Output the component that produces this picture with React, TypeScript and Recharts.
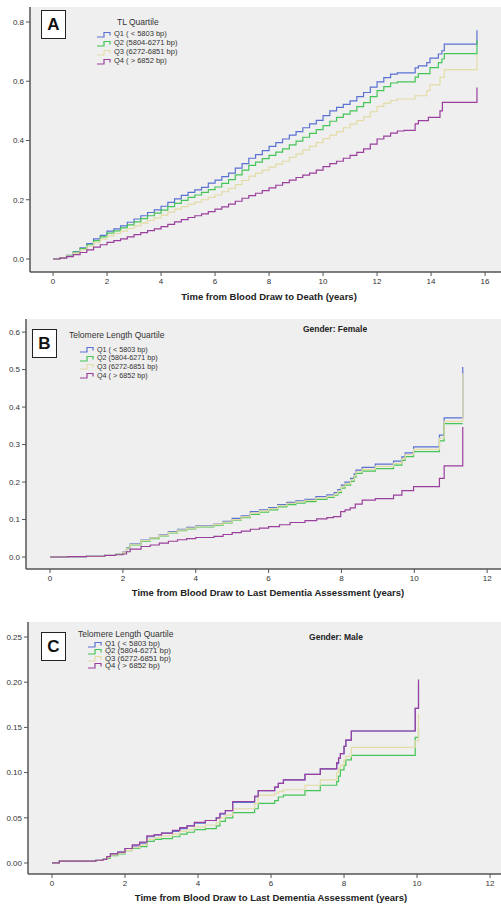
import { LineChart, Line, XAxis, YAxis, CartesianGrid } from 'recharts';

const FONT = '"Liberation Sans", Arial, sans-serif';
const AXIS_STROKE = '#555555';
const PLOT_BG = '#efefef';

const QUARTILE_COLORS = ['#5b72d3', '#45c557', '#e4dca6', '#9a3f9e'];
const QUARTILE_LABELS = ['Q1 ( < 5803 bp)', 'Q2 (5804-6271 bp)', 'Q3 (6272-6851 bp)', 'Q4 ( > 6852 bp)'];

// ---- Panel A: death, every 0.25 y up to 13, then the late steps
const A_TIME = [
  0, 0.25, 0.5, 0.75, 1, 1.25, 1.5, 1.75, 2, 2.25, 2.5, 2.75, 3, 3.25, 3.5, 3.75,
  4, 4.25, 4.5, 4.75, 5, 5.25, 5.5, 5.75, 6, 6.25, 6.5, 6.75, 7, 7.25, 7.5, 7.75,
  8, 8.25, 8.5, 8.75, 9, 9.25, 9.5, 9.75, 10, 10.25, 10.5, 10.75, 11, 11.25, 11.5, 11.75,
  12, 12.25, 12.5, 12.75, 13,
];
const A_Q1 = [
  0, 0.004, 0.012, 0.025, 0.038, 0.052, 0.068, 0.08, 0.094, 0.102, 0.112, 0.124, 0.135, 0.146, 0.157, 0.166,
  0.178, 0.191, 0.203, 0.215, 0.225, 0.233, 0.242, 0.256, 0.266, 0.278, 0.29, 0.307, 0.322, 0.34, 0.352, 0.366,
  0.38, 0.393, 0.405, 0.418, 0.43, 0.443, 0.456, 0.468, 0.484, 0.5, 0.512, 0.522, 0.534, 0.548, 0.562, 0.58,
  0.598, 0.612, 0.624, 0.628, 0.628,
];
const A_Q2 = [
  0, 0.004, 0.011, 0.023, 0.035, 0.048, 0.062, 0.075, 0.087, 0.095, 0.105, 0.115, 0.125, 0.136, 0.146, 0.155,
  0.165, 0.177, 0.188, 0.198, 0.208, 0.216, 0.225, 0.234, 0.243, 0.255, 0.268, 0.284, 0.3, 0.316, 0.327, 0.339,
  0.35, 0.361, 0.372, 0.385, 0.398, 0.411, 0.424, 0.437, 0.45, 0.465, 0.478, 0.489, 0.5, 0.514, 0.528, 0.548,
  0.568, 0.582, 0.594, 0.598, 0.598,
];
const A_Q3 = [
  0, 0.003, 0.01, 0.02, 0.031, 0.043, 0.055, 0.067, 0.078, 0.086, 0.094, 0.103, 0.112, 0.121, 0.13, 0.139,
  0.148, 0.158, 0.168, 0.177, 0.185, 0.192, 0.2, 0.208, 0.216, 0.227, 0.238, 0.251, 0.265, 0.28, 0.29, 0.3,
  0.31, 0.32, 0.33, 0.343, 0.355, 0.368, 0.38, 0.393, 0.406, 0.418, 0.43, 0.443, 0.455, 0.467, 0.48, 0.497,
  0.515, 0.526, 0.535, 0.54, 0.54,
];
const A_Q4 = [
  0, 0.003, 0.008, 0.015, 0.022, 0.031, 0.04, 0.048, 0.056, 0.062, 0.068, 0.075, 0.082, 0.089, 0.096, 0.102,
  0.109, 0.117, 0.125, 0.133, 0.14, 0.146, 0.152, 0.16, 0.168, 0.176, 0.185, 0.195, 0.205, 0.214, 0.222, 0.231,
  0.24, 0.249, 0.258, 0.266, 0.275, 0.283, 0.29, 0.3, 0.312, 0.322, 0.33, 0.34, 0.35, 0.36, 0.372, 0.388,
  0.405, 0.415, 0.425, 0.432, 0.434,
];
const A_Q1_TAIL_TIME = [13.41, 13.53, 13.84, 13.96, 14.27, 14.4, 14.49, 15.7];
const A_Q1_TAIL = [0.645, 0.652, 0.663, 0.678, 0.692, 0.703, 0.725, 0.772];
const A_Q2_TAIL_TIME = [13.41, 13.53, 13.96, 14.27, 14.4, 14.49, 15.7];
const A_Q2_TAIL = [0.614, 0.626, 0.646, 0.663, 0.675, 0.693, 0.738];
const A_Q3_TAIL_TIME = [13.41, 13.84, 13.96, 14.33, 14.49, 15.7];
const A_Q3_TAIL = [0.551, 0.568, 0.588, 0.613, 0.639, 0.69];
const A_Q4_TAIL_TIME = [13.41, 13.53, 13.9, 14.33, 14.42, 15.7];
const A_Q4_TAIL = [0.456, 0.467, 0.478, 0.5, 0.529, 0.579];

// ---- Panel B: dementia, female
const B_TIME = [
  0, 0.5, 1, 1.5, 1.8, 2, 2.1, 2.2, 2.5, 2.75, 3, 3.25, 3.5, 3.75, 4, 4.5, 4.75, 5, 5.25, 5.5, 5.75, 6,
  6.25, 6.5, 6.75, 7, 7.3, 7.6, 7.8, 7.9, 8, 8.1, 8.25, 8.35, 8.4, 8.57, 8.93, 9.43, 9.66, 9.75, 9.98,
  10.69, 10.82, 11.33,
];
const B_Q1 = [
  0, 0.001, 0.002, 0.005, 0.008, 0.014, 0.025, 0.035, 0.045, 0.052, 0.059, 0.068, 0.074, 0.079, 0.083,
  0.088, 0.095, 0.103, 0.11, 0.121, 0.126, 0.132, 0.14, 0.146, 0.15, 0.154, 0.161, 0.166, 0.172, 0.18,
  0.192, 0.2, 0.21, 0.222, 0.232, 0.239, 0.248, 0.256, 0.267, 0.278, 0.294, 0.325, 0.371, 0.507,
];
const B_Q2 = [
  0, 0.001, 0.002, 0.004, 0.007, 0.012, 0.022, 0.032, 0.042, 0.049, 0.056, 0.064, 0.07, 0.075, 0.08,
  0.085, 0.091, 0.098, 0.105, 0.114, 0.12, 0.126, 0.134, 0.14, 0.144, 0.148, 0.154, 0.159, 0.165, 0.172,
  0.184, 0.192, 0.202, 0.213, 0.223, 0.229, 0.236, 0.245, 0.258, 0.268, 0.281, 0.31, 0.356, 0.356,
];
const B_Q3 = [
  0, 0.001, 0.002, 0.005, 0.008, 0.013, 0.024, 0.034, 0.044, 0.051, 0.058, 0.066, 0.072, 0.077, 0.082,
  0.087, 0.093, 0.1, 0.107, 0.117, 0.123, 0.129, 0.137, 0.143, 0.147, 0.151, 0.157, 0.162, 0.168, 0.176,
  0.188, 0.196, 0.206, 0.217, 0.227, 0.234, 0.242, 0.25, 0.262, 0.273, 0.287, 0.317, 0.362, 0.49,
];
const B_Q4_TIME = [
  0, 0.5, 1, 1.5, 1.8, 2, 2.1, 2.2, 2.5, 2.75, 3, 3.25, 3.5, 3.75, 4, 4.5, 4.75, 5, 5.25, 5.5, 5.75, 6,
  6.3, 6.59, 7, 7.32, 7.6, 7.78, 7.98, 8.1, 8.24, 8.38, 8.57, 8.93, 9.43, 9.66, 9.98, 10.69, 10.82, 11.33,
];
const B_Q4 = [
  0, 0.001, 0.002, 0.004, 0.006, 0.008, 0.014, 0.021, 0.028, 0.032, 0.037, 0.042, 0.046, 0.049, 0.052,
  0.055, 0.06, 0.065, 0.069, 0.074, 0.077, 0.081, 0.086, 0.092, 0.097, 0.102, 0.105, 0.108, 0.121, 0.126,
  0.131, 0.141, 0.152, 0.156, 0.165, 0.177, 0.188, 0.21, 0.243, 0.347,
];

// ---- Panel C: dementia, male
const C_TIME = [
  0, 0.2, 1.2, 1.4, 1.5, 1.6, 1.8, 2, 2.2, 2.4, 2.6, 2.8, 3, 3.3, 3.5, 3.7, 3.9, 4.2, 4.5, 4.6, 4.75,
  4.95, 5.55, 5.65, 6.1, 6.2, 6.34, 6.93, 7.35, 7.8, 7.85, 7.9, 8, 8.05, 8.2, 9.95, 10.04,
];
const C_Q1 = [
  0, 0.002, 0.003, 0.004, 0.006, 0.01, 0.012, 0.016, 0.019, 0.022, 0.029, 0.031, 0.033, 0.035, 0.038,
  0.041, 0.044, 0.047, 0.05, 0.054, 0.058, 0.067, 0.073, 0.08, 0.084, 0.088, 0.092, 0.098, 0.104, 0.11,
  0.116, 0.121, 0.129, 0.136, 0.146, 0.171, 0.198,
];
const C_Q2 = [
  0, 0.002, 0.003, 0.004, 0.005, 0.008, 0.01, 0.0135, 0.016, 0.018, 0.024, 0.026, 0.027, 0.029, 0.032,
  0.034, 0.037, 0.038, 0.041, 0.046, 0.05, 0.0556, 0.06, 0.066, 0.069, 0.073, 0.075, 0.08, 0.086, 0.09,
  0.096, 0.103, 0.108, 0.114, 0.119, 0.139, 0.15,
];
const C_Q3 = [
  0, 0.002, 0.003, 0.004, 0.006, 0.009, 0.011, 0.014, 0.017, 0.02, 0.026, 0.028, 0.03, 0.032, 0.035,
  0.037, 0.04, 0.042, 0.045, 0.05, 0.053, 0.06, 0.066, 0.075, 0.077, 0.079, 0.081, 0.086, 0.092, 0.1,
  0.104, 0.108, 0.114, 0.118, 0.128, 0.135, 0.165,
];
const C_Q4 = [
  0, 0.002, 0.003, 0.004, 0.007, 0.01, 0.012, 0.016, 0.02, 0.023, 0.03, 0.031, 0.033, 0.036, 0.039,
  0.041, 0.045, 0.047, 0.05, 0.055, 0.058, 0.068, 0.074, 0.08, 0.084, 0.088, 0.092, 0.098, 0.104, 0.111,
  0.116, 0.121, 0.129, 0.136, 0.146, 0.171, 0.203,
];

const toPoints = (ts: number[], vs: number[]) => ts.map((t, i) => ({ t, v: vs[i] }));

type Pt = { t: number; v: number };

interface PanelProps {
  top: number;
  height: number;
  plotTop: number;
  xAxisHeight: number;
  yAxisWidth: number;
  xDomain: [number, number];
  yDomain: [number, number];
  xTicks: number[];
  yTicks: number[];
  yDigits: number;
  series: Pt[][];
}

function KmPanel({ top, height, plotTop, xAxisHeight, yAxisWidth, xDomain, yDomain, xTicks, yTicks, yDigits, series }: PanelProps) {
  const tickStyle = { fill: '#333', fontSize: 8, fontFamily: FONT };
  const axisLine = { stroke: AXIS_STROKE, strokeWidth: 1.5 };
  return (
    <div style={{ position: 'absolute', left: 0, top }}>
      <LineChart width={501} height={height} margin={{ top: plotTop, right: 0, bottom: 0, left: 0 }}>
        <CartesianGrid fill={PLOT_BG} horizontal={false} vertical={false} />
        <XAxis
          dataKey="t"
          type="number"
          domain={xDomain}
          ticks={xTicks}
          allowDataOverflow
          height={xAxisHeight}
          tickSize={4}
          tickMargin={2}
          tick={tickStyle}
          axisLine={axisLine}
          tickLine={{ stroke: AXIS_STROKE }}
        />
        <XAxis
          xAxisId="top"
          orientation="top"
          type="number"
          domain={xDomain}
          allowDataOverflow
          height={0}
          tick={false}
          tickLine={false}
          axisLine={axisLine}
        />
        <YAxis
          type="number"
          domain={yDomain}
          ticks={yTicks}
          allowDataOverflow
          width={yAxisWidth}
          tickSize={4}
          tickMargin={2}
          tick={tickStyle}
          tickFormatter={(v: number) => v.toFixed(yDigits)}
          axisLine={axisLine}
          tickLine={{ stroke: AXIS_STROKE }}
        />
        {series.map((pts, i) => (
          <Line
            key={`q${i + 1}`}
            name={QUARTILE_LABELS[i]}
            data={pts}
            dataKey="v"
            type="stepAfter"
            stroke={QUARTILE_COLORS[i]}
            strokeWidth={1.2}
            dot={false}
            activeDot={false}
            isAnimationActive={false}
          />
        ))}
      </LineChart>
    </div>
  );
}

function LetterBox({ letter, left, top }: { letter: string; left: number; top: number }) {
  return (
    <div
      style={{
        position: 'absolute', left, top, width: 23, height: 27, border: '1.5px solid #222', background: '#fff',
        display: 'flex', alignItems: 'center', justifyContent: 'center',
        fontFamily: FONT, fontWeight: 'bold', fontSize: 17, color: '#111',
      }}
    >
      {letter}
    </div>
  );
}

function StepIcon({ color }: { color: string }) {
  return (
    <svg width={16} height={7} style={{ display: 'block', marginRight: 1 }}>
      <path d="M0,6 H7 V1.5 H13 V4.5" fill="none" stroke={color} strokeWidth={1.2} />
    </svg>
  );
}

interface LegendProps {
  title: string;
  titleLeft: number;
  titleTop: number;
  titleSize: number;
  left: number;
  top: number;
  rowHeight: number;
  fontSize: number;
}

function QuartileLegend({ title, titleLeft, titleTop, titleSize, left, top, rowHeight, fontSize }: LegendProps) {
  return (
    <>
      <div style={{ position: 'absolute', left: titleLeft, top: titleTop, fontFamily: FONT, fontSize: titleSize, color: '#333', whiteSpace: 'nowrap', lineHeight: 1 }}>
        {title}
      </div>
      <div style={{ position: 'absolute', left, top }}>
        {QUARTILE_LABELS.map((lab, i) => (
          <div key={lab} style={{ display: 'flex', alignItems: 'center', height: rowHeight }}>
            <StepIcon color={QUARTILE_COLORS[i]} />
            <span style={{ fontFamily: FONT, fontSize, color: '#333', whiteSpace: 'nowrap', lineHeight: 1 }}>{lab}</span>
          </div>
        ))}
      </div>
    </>
  );
}

function CenteredText({ text, cx, cy, size, bold }: { text: string; cx: number; cy: number; size: number; bold?: boolean }) {
  return (
    <div
      style={{
        position: 'absolute', left: cx, top: cy, width: 'max-content', transform: 'translate(-50%, -50%)',
        fontFamily: FONT, fontSize: size, fontWeight: bold ? 'bold' : 'normal', color: '#222',
        whiteSpace: 'nowrap', lineHeight: 1,
      }}
    >
      {text}
    </div>
  );
}

export default function App() {
  const seriesA = [
    toPoints([...A_TIME, ...A_Q1_TAIL_TIME], [...A_Q1, ...A_Q1_TAIL]),
    toPoints([...A_TIME, ...A_Q2_TAIL_TIME], [...A_Q2, ...A_Q2_TAIL]),
    toPoints([...A_TIME, ...A_Q3_TAIL_TIME], [...A_Q3, ...A_Q3_TAIL]),
    toPoints([...A_TIME, ...A_Q4_TAIL_TIME], [...A_Q4, ...A_Q4_TAIL]),
  ];
  const seriesB = [
    toPoints(B_TIME, B_Q1),
    toPoints(B_TIME, B_Q2),
    toPoints(B_TIME, B_Q3),
    toPoints(B_Q4_TIME, B_Q4),
  ];
  const seriesC = [
    toPoints(C_TIME, C_Q1),
    toPoints(C_TIME, C_Q2),
    toPoints(C_TIME, C_Q3),
    toPoints(C_TIME, C_Q4),
  ];

  return (
    <div style={{ position: 'absolute', left: 0, top: 0, width: 501, height: 906, background: '#fff', overflow: 'hidden' }}>
      <KmPanel
        top={0}
        height={310}
        plotTop={7}
        xAxisHeight={38}
        yAxisWidth={30}
        xDomain={[-0.854, 16.59]}
        yDomain={[-0.0439, 0.8506]}
        xTicks={[0, 2, 4, 6, 8, 10, 12, 14, 16]}
        yTicks={[0, 0.2, 0.4, 0.6, 0.8]}
        yDigits={1}
        series={seriesA}
      />
      <KmPanel
        top={305}
        height={300}
        plotTop={14}
        xAxisHeight={36}
        yAxisWidth={26}
        xDomain={[-0.659, 12.38]}
        yDomain={[-0.032, 0.635]}
        xTicks={[0, 2, 4, 6, 8, 10, 12]}
        yTicks={[0, 0.1, 0.2, 0.3, 0.4, 0.5, 0.6]}
        yDigits={1}
        series={seriesB}
      />
      <KmPanel
        top={610}
        height={296}
        plotTop={12}
        xAxisHeight={32}
        yAxisWidth={28}
        xDomain={[-0.658, 12.3]}
        yDomain={[-0.0122, 0.2666]}
        xTicks={[0, 2, 4, 6, 8, 10, 12]}
        yTicks={[0, 0.05, 0.1, 0.15, 0.2, 0.25]}
        yDigits={2}
        series={seriesC}
      />

      <LetterBox letter="A" left={41} top={10} />
      <LetterBox letter="B" left={32} top={329} />
      <LetterBox letter="C" left={41} top={632} />

      <QuartileLegend title="TL Quartile" titleLeft={117} titleTop={18} titleSize={8.5} left={97} top={29.5} rowHeight={9} fontSize={7.5} />
      <QuartileLegend title="Telomere Length Quartile" titleLeft={69} titleTop={331} titleSize={8.5} left={80} top={345} rowHeight={8.7} fontSize={7.2} />
      <QuartileLegend title="Telomere Length Quartile" titleLeft={78} titleTop={630} titleSize={8.5} left={88} top={640.5} rowHeight={7.2} fontSize={7.8} />

      <CenteredText text="Gender: Female" cx={335} cy={329} size={8.5} bold />
      <CenteredText text="Gender: Male" cx={336} cy={637} size={8.5} bold />

      <CenteredText text="Time from Blood Draw to Death (years)" cx={269} cy={297} size={9.5} bold />
      <CenteredText text="Time from Blood Draw to Last Dementia Assessment (years)" cx={268} cy={593} size={9.5} bold />
      <CenteredText text="Time from Blood Draw to Last Dementia Assessment (years)" cx={271} cy={898} size={9.5} bold />
    </div>
  );
}
